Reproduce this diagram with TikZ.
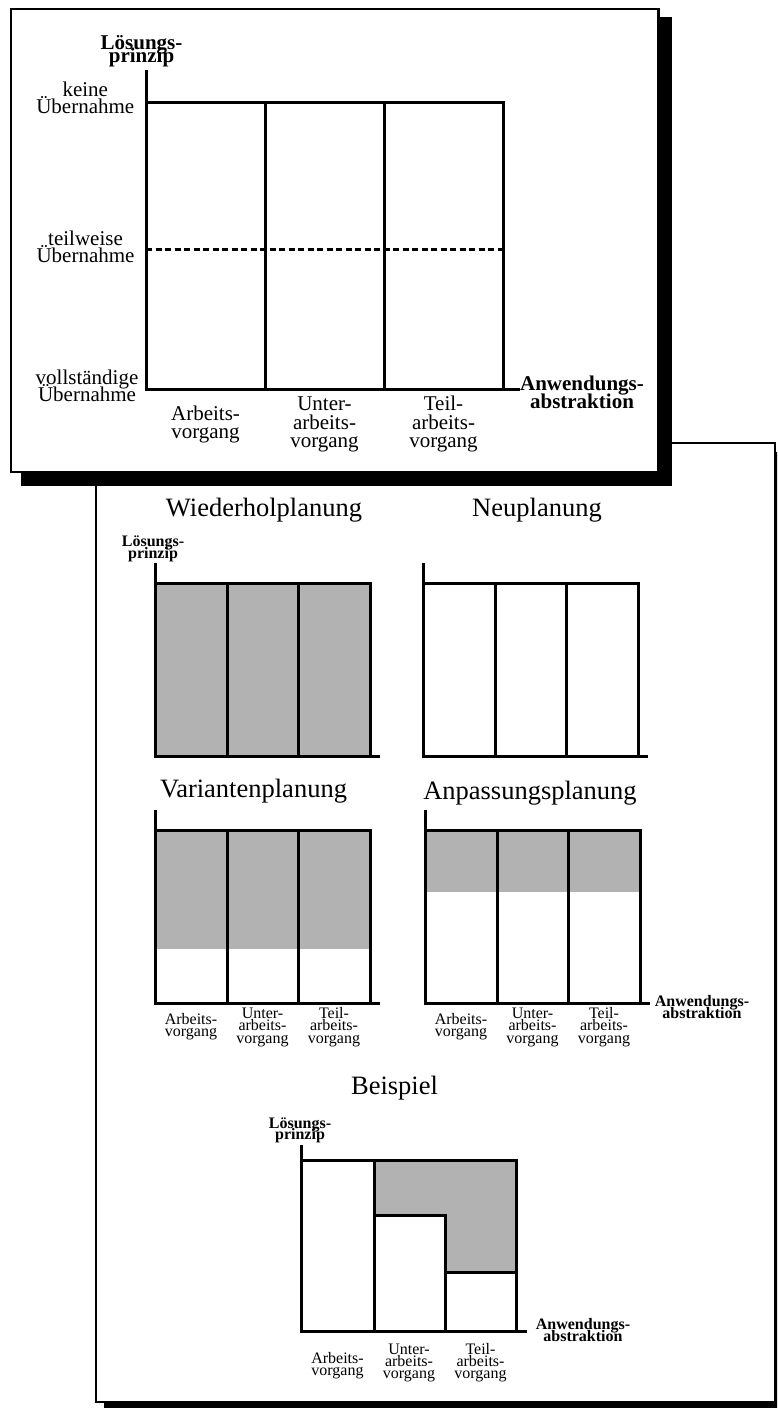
\documentclass[tikz,border=0pt]{standalone}
\usepackage{fontspec}
\setmainfont{Liberation Serif}
\definecolor{fillgray}{gray}{0.7}
% centred lines, baseline of the box = baseline of the first line
\newcommand\stacklines[1]{\vtop{\lineskiplimit=-100pt\lineskip=0pt\halign{\hfil##\hfil\cr#1\crcr}}}
\tikzset{
  panel/.style={draw=black, line width=2.3pt, fill=white},
  gridline/.style={line width=3pt, line cap=butt, line join=miter},
  guideline/.style={line width=3pt, dash pattern=on 6pt off 3.5pt},
  big/.style={anchor=base, inner sep=0pt, font={\fontsize{21}{#1}\selectfont}},
  big/.default=17.5,
  bigbold/.style={anchor=base, inner sep=0pt, font={\bfseries\fontsize{21}{#1}\selectfont}},
  bigbold/.default=15,
  small/.style={anchor=base, inner sep=0pt, font={\fontsize{16}{#1}\selectfont}},
  small/.default=12.4,
  smallbold/.style={anchor=base, inner sep=0pt, font={\bfseries\fontsize{16}{#1}\selectfont}},
  smallbold/.default=12.4,
  title/.style={anchor=base, inner sep=0pt, font={\fontsize{26.5}{30}\selectfont}},
}
% three-column grid with axes, in local coordinates (origin = upper left corner)
\newcommand\smallgrid{%
  \draw[gridline] (0,-20) -- (0,173) -- (225,173);
  \draw[gridline] (0,0) -- (215,0) -- (215,173);
  \draw[gridline] (72,0) -- (72,173);
  \draw[gridline] (143,0) -- (143,173);
}
% column captions below a small grid; #1 is a name prefix
\newcommand\smalllabels[1]{%
  \node[small] (#1-a) at (36,194.5) {\stacklines{Arbeits-\cr vorgang}};
  \node[small] (#1-u) at (107.5,188.2) {\stacklines{Unter-\cr arbeits-\cr vorgang}};
  \node[small] (#1-t) at (179,188.2) {\stacklines{Teil-\cr arbeits-\cr vorgang}};
}
\begin{document}
\begin{tikzpicture}[x=1pt,y=-1pt]
\useasboundingbox (0,0) rectangle (777,1408);
\clip (0,0) rectangle (777,1408);
\fill[white] (0,0) rectangle (777,1408);

% ---------- lower sheet ----------
\fill[black] (104,451.5) rectangle (790,1420);
\draw[panel] (95.8,442.8) rectangle (774.8,1401.8);

% ---------- upper sheet ----------
\fill[black] (21,17) rectangle (671.7,485.7);
\draw[panel] (11.3,8.7) rectangle (658.5,472.3);

% main grid
\draw[gridline] (146,70) -- (146,389) -- (520,389);
\draw[gridline] (146,102.7) -- (503,102.7) -- (503,389);
\draw[gridline] (265,102.7) -- (265,389);
\draw[gridline] (384,102.7) -- (384,389);
\draw[guideline] (146,249) -- (503,249);

\node[bigbold=13.6] (ylab) at (141.5,49.3) {\stacklines{Lösungs-\cr prinzip}};
\node[big=16.8] (lvl1) at (85.3,96.7) {\stacklines{keine\cr Übernahme}};
\node[big=17] (lvl2) at (85.5,245.7) {\stacklines{teilweise\cr Übernahme}};
\node[big=17] (lvl3) at (87,384) {\stacklines{vollständige\cr Übernahme}};
\node[bigbold=18] (xlab) at (582,390) {\stacklines{Anwendungs-\cr abstraktion}};
\node[big=17.5] (col1) at (205.5,420.7) {\stacklines{Arbeits-\cr vorgang}};
\node[big=18.5] (col2) at (324.5,410.7) {\stacklines{Unter-\cr arbeits-\cr vorgang}};
\node[big=18.5] (col3) at (443.5,410.7) {\stacklines{Teil-\cr arbeits-\cr vorgang}};

% ---------- titles ----------
\node[title] (t1) at (264,516) {Wiederholplanung};
\node[title] (t2) at (537,516) {Neuplanung};
\node[title] (t3) at (253.5,797) {Variantenplanung};
\node[title] (t4) at (530,799) {Anpassungsplanung};
\node[title] (t5) at (394.5,1094) {Beispiel};

% Wiederholplanung
\node[smallbold=12.4] (ylab1) at (153,546) {\stacklines{Lösungs-\cr prinzip}};
\begin{scope}[shift={(155,583)}]
  \fill[fillgray] (0,0) rectangle (215,173);
  \smallgrid
\end{scope}

% Neuplanung
\begin{scope}[shift={(423,583)}]
  \smallgrid
\end{scope}

% Variantenplanung
\begin{scope}[shift={(155,830)}]
  \fill[fillgray] (0,0) rectangle (215,119);
  \smallgrid
  \smalllabels{var}
\end{scope}

% Anpassungsplanung
\begin{scope}[shift={(425,830)}]
  \fill[fillgray] (0,0) rectangle (215,62);
  \smallgrid
  \smalllabels{anp}
\end{scope}
\node[smallbold=12.8] (xlab4) at (702,1006) {\stacklines{Anwendungs-\cr abstraktion}};

% Beispiel: L-shaped shaded area over the second and third column
\begin{scope}[shift={(301.7,1160.7)}]
  \fill[fillgray] (72.3,0) -- (214.3,0) -- (214.3,111.6) -- (143.3,111.6)
                  -- (143.3,55) -- (72.3,55) -- cycle;
  \draw[gridline] (0,-15.7) -- (0,171) -- (225,171);
  \draw[gridline] (0,0) -- (214.3,0) -- (214.3,171);
  \draw[gridline] (72.3,0) -- (72.3,171);
  \draw[gridline] (72.3,55) -- (143.3,55) -- (143.3,171);
  \draw[gridline] (143.3,111.6) -- (214.3,111.6);
\end{scope}
\node[smallbold=11.8] (ylab5) at (300,1128) {\stacklines{Lösungs-\cr prinzip}};
\node[smallbold=11.8] (xlab5) at (583,1329.3) {\stacklines{Anwendungs-\cr abstraktion}};
\node[small=12] (bsp-a) at (337.5,1363.3) {\stacklines{Arbeits-\cr vorgang}};
\node[small=12] (bsp-u) at (409,1354.5) {\stacklines{Unter-\cr arbeits-\cr vorgang}};
\node[small=12] (bsp-t) at (480.5,1354.5) {\stacklines{Teil-\cr arbeits-\cr vorgang}};
\end{tikzpicture}
\end{document}
